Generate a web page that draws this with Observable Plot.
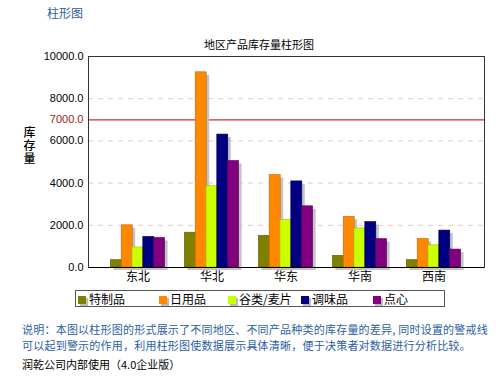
<!DOCTYPE html>
<html>
<head>
<meta charset="utf-8">
<script src="https://cdn.jsdelivr.net/npm/d3@7"></script>
<script src="https://cdn.jsdelivr.net/npm/@observablehq/plot@0.6"></script>
<style>
  html, body { margin: 0; padding: 0; background: #fff; }
  body { width: 498px; height: 377px; position: relative; overflow: hidden;
         font-family: "Noto Sans CJK SC", "Liberation Sans", sans-serif; }
  .abs { position: absolute; white-space: nowrap; }
  #page-title { left: 47px; top: 5px; font-size: 12px; color: #2f62a0; line-height: 16px; }
  #chart-title { left: 159px; width: 200px; text-align: center; top: 37px; font-size: 11px; line-height: 14px; color: #000; }
  #chart { position: absolute; left: 0; top: 0; }
  #legend { left: 75px; top: 290px; width: 368px; height: 15px; border: 1px solid #555; background: #fff; }
  .item { position: absolute; top: 0; height: 15px; line-height: 15px; font-size: 12px; color: #000; }
  .sw { display: inline-block; width: 8px; height: 8px; margin-right: 3px; vertical-align: -0px; box-shadow: 2px 2px 0 #bbb; }
  .cap { left: 22px; font-size: 11px; line-height: 16px; color: #2a60a2; letter-spacing: 0.22px; }
  #footer { left: 22px; top: 356px; font-size: 11px; line-height: 16px; color: #000; }
</style>
</head>
<body>
<div id="page-title" class="abs">柱形图</div>
<div id="chart"></div>
<div id="chart-title" class="abs">地区产品库存量柱形图</div>
<div id="legend" class="abs"></div>
<div class="abs cap" style="top:321px">说明：本图以柱形图的形式展示了不同地区、不同产品种类的库存量的差异, 同时设置的警戒线</div>
<div class="abs cap" style="top:337px">可以起到警示的作用，利用柱形图使数据展示具体清晰，便于决策者对数据进行分析比较。</div>
<div id="footer" class="abs">润乾公司内部使用（4.0企业版）</div>
<script>
const regions = ["东北", "华北", "华东", "华南", "西南"];
const products = ["特制品", "日用品", "谷类/麦片", "调味品", "点心"];
const colors = ["#808000", "#ff8800", "#ccff00", "#000080", "#800080"];
const strokes = ["#5c5c00", "#c86400", "#99c000", "#000050", "#5a005a"];
// values per product, in region order
const 特制品 = [350, 1650, 1500, 550, 350];
const 日用品 = [2000, 9250, 4380, 2400, 1350];
const 谷类麦片 = [950, 3850, 2250, 1850, 1050];
const 调味品 = [1450, 6300, 4080, 2150, 1750];
const 点心 = [1400, 5050, 2900, 1350, 850];
const seriesValues = [特制品, 日用品, 谷类麦片, 调味品, 点心];
const yTicks = [0, 2000, 4000, 6000, 8000, 10000];
const gridTicks = [2000, 4000, 6000, 8000];
const warning = 7000;
const yLabel = "库\n存\n量";

const barW = 10.8;
const marks = [];
marks.push(Plot.gridY(gridTicks, {stroke: "#e2caca", strokeOpacity: 1, strokeDasharray: "5,5"}));
marks.push(Plot.ruleY([warning], {stroke: "#c03040", strokeWidth: 1.2}));
products.forEach((p, i) => {
  const rows = regions.map((r, j) => ({region: r, product: p, value: seriesValues[i][j]}));
  const off = (i - 2) * barW;
  marks.push(Plot.barY(rows, {x: "region", y1: 0, y2: "value", fill: "#c4c4c4", dx: off + 3, dy: 3}));
  marks.push(Plot.barY(rows, {x: "region", y1: 0, y2: "value", fill: colors[i], stroke: strokes[i], strokeWidth: 0.6, dx: off}));
});
marks.push(Plot.frame({stroke: "#333"}));
marks.push(Plot.ruleY([0], {stroke: "#000"}));
marks.push(Plot.axisY(yTicks, {tickSize: 0, tickPadding: 5, tickFormat: d => d.toFixed(1), fontSize: 11, fill: "#000"}));
marks.push(Plot.axisY([warning], {tickSize: 0, tickPadding: 5, tickFormat: d => d.toFixed(1), fontSize: 11, fill: "#a02020"}));
marks.push(Plot.axisX({tickSize: 0, tickPadding: 5, fontSize: 12, fill: "#000"}));
marks.push(Plot.text([yLabel], {frameAnchor: "left", textAnchor: "middle", text: d => d, dx: -59, dy: -16, fontSize: 12, lineHeight: 1.05, fill: "#000", fontWeight: 500}));

const chart = Plot.plot({
  width: 498,
  height: 290,
  marginLeft: 88,
  marginRight: 14,
  marginTop: 56,
  marginBottom: 23,
  style: {fontFamily: "'Liberation Sans', 'Noto Sans CJK SC', sans-serif", background: "transparent", overflow: "visible"},
  x: {domain: regions, paddingInner: 0.856, paddingOuter: 0.5547, insetRight: 2, label: null},
  y: {domain: [0, 10000], label: null},
  marks
});
document.getElementById("chart").appendChild(chart);

const legend = document.getElementById("legend");
const legendX = [2, 83, 152, 225, 297];
products.forEach((p, i) => {
  const it = document.createElement("div");
  it.className = "item";
  it.style.left = legendX[i] + "px";
  it.innerHTML = `<span class="sw" style="background:${colors[i]}"></span>${p}`;
  legend.appendChild(it);
});
</script>
</body>
</html>
